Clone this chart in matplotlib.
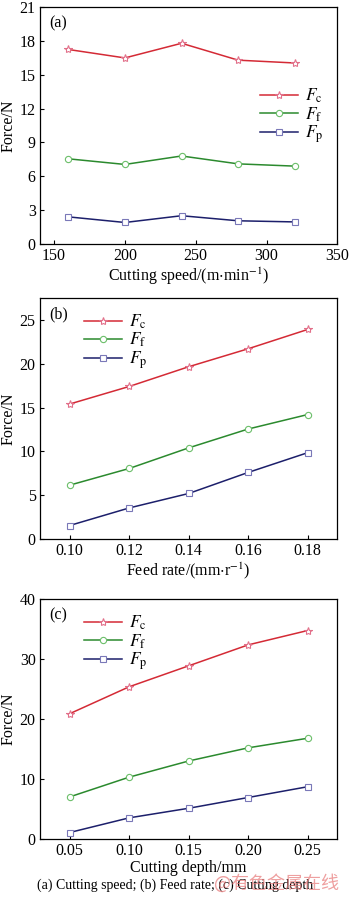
import numpy as np
import matplotlib
matplotlib.use('Agg')
import matplotlib.pyplot as plt
from matplotlib.lines import Line2D

plt.rcParams['font.family'] = ['Liberation Serif', 'DejaVu Serif']
plt.rcParams['mathtext.fontset'] = 'stix'

# panel (a)
speed = [160, 200, 240, 280, 320]
fc_a = [17.25, 16.5, 17.8, 16.3, 16.05]
ff_a = [7.55, 7.05, 7.8, 7.1, 6.9]
fp_a = [2.4, 1.9, 2.5, 2.05, 1.95]

# panel (b)
feed = [0.10, 0.12, 0.14, 0.16, 0.18]
fc_b = [15.4, 17.4, 19.65, 21.7, 23.9]
ff_b = [6.15, 8.05, 10.4, 12.55, 14.2]
fp_b = [1.55, 3.55, 5.2, 7.6, 9.85]

# panel (c)
depth = [0.05, 0.10, 0.15, 0.20, 0.25]
fc_c = [20.9, 25.4, 28.9, 32.4, 34.8]
ff_c = [7.0, 10.3, 13.0, 15.2, 16.8]
fp_c = [1.05, 3.5, 5.1, 6.9, 8.7]

names = [r'$F_{\rm c}$', r'$F_{\rm f}$', r'$F_{\rm p}$']
line_cols = ['#d42a35', '#2b8a2e', '#1c1f6b']
mk_cols = ['#e2708a', '#6cbf6a', '#7a78b8']
markers = ['*', 'o', 's']
msizes = [6, 4.5, 4]

fig = plt.figure(figsize=(3.5, 9), dpi=100)

panels = [
    ([0.114, 0.729, 0.85, 0.263], speed, [fc_a, ff_a, fp_a], (140, 350), (0, 21),
     np.arange(150, 351, 50), np.arange(0, 22, 3), '(a)', r'Cutting speed/(m$\cdot$min$^{-1}$)', 'right'),
    ([0.114, 0.401, 0.85, 0.268], feed, [fc_b, ff_b, fp_b], (0.09, 0.19), (0, 27.5),
     feed, np.arange(0, 26, 5), '(b)', r'Feed rate/(mm$\cdot$r$^{-1}$)', 'upper'),
    ([0.114, 0.068, 0.85, 0.266], depth, [fc_c, ff_c, fp_c], (0.025, 0.275), (0, 40),
     depth, np.arange(0, 41, 10), '(c)', 'Cutting depth/mm', 'upper'),
]

for rect, x, ys, xl, yl, xt, yt, tag, xlabel, legpos in panels:
    ax = fig.add_axes(rect)
    for y, lc, mc, m, ms in zip(ys, line_cols, mk_cols, markers, msizes):
        ax.plot(x, y, color=lc, lw=1.1, marker=m, ms=ms, mfc='white', mec=mc, mew=0.8)
    ax.set_xlim(*xl)
    ax.set_ylim(*yl)
    ax.set_xticks(xt)
    ax.set_yticks(yt)
    if tag == '(a)':
        ax.set_xticklabels([str(v) for v in xt])
    else:
        ax.set_xticklabels(['%.2f' % v for v in xt])
    ax.tick_params(direction='in', length=3, width=0.8, labelsize=11.5, pad=3)
    ax.set_ylabel('Force/N', fontsize=11.5, labelpad=2)
    ax.set_xlabel(xlabel, fontsize=11.5, labelpad=1)
    for s in ax.spines.values():
        s.set_linewidth(0.9)
    ax.text(0.03, 0.965, tag, transform=ax.transAxes, fontsize=11.5, va='top', ha='left')

    handles = [Line2D([], [], color=lc, lw=1.1, marker=m, ms=ms, mfc='white', mec=mc, mew=0.8)
               for lc, mc, m, ms in zip(line_cols, mk_cols, markers, msizes)]
    if legpos == 'right':
        ax.legend(handles, names, loc='upper left', bbox_to_anchor=(0.71, 0.7),
                  frameon=False, fontsize=12.5, handlelength=2.2, labelspacing=0.0,
                  handletextpad=0.4, borderpad=0)
    else:
        ax.legend(handles, names, loc='upper left', bbox_to_anchor=(0.12, 0.975),
                  frameon=False, fontsize=12.5, handlelength=2.2, labelspacing=0.0,
                  handletextpad=0.4, borderpad=0)

fig.text(0.5, 0.016, '(a) Cutting speed; (b) Feed rate; (c) Cutting depth', ha='center',
         va='center', fontsize=10)
fig.text(0.612, 0.018, '@有色金属在线', ha='left', va='center', fontsize=13,
         color='#e87878', alpha=0.7, family=['Noto Sans CJK SC', 'DejaVu Sans'])

fig.savefig('out.png', dpi=100)
